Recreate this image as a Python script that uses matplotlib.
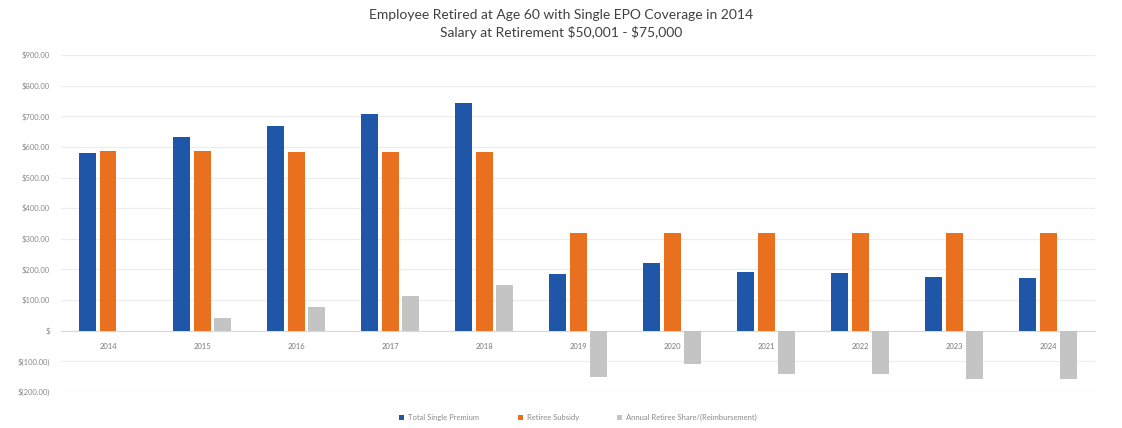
import numpy as np
import matplotlib
matplotlib.use('Agg')
from matplotlib import pyplot as plt
from matplotlib.ticker import FuncFormatter

plt.rcParams['font.family'] = ['Lato', 'DejaVu Sans']

years = ['2014', '2015', '2016', '2017', '2018', '2019', '2020', '2021', '2022', '2023', '2024']
total_premium = [580, 633, 668, 708, 743, 186, 222, 192, 189, 176, 173]
retiree_subsidy = [587, 587, 584, 584, 584, 320, 320, 320, 320, 320, 320]
retiree_share = [0, 40, 76, 112, 150, -150, -110, -142, -142, -156, -156]

series_names = ['Total Single Premium', 'Retiree Subsidy', 'Annual Retiree Share/(Reimbursement)']
colors = ['#1f56a8', '#e8701f', '#c4c4c4']


def money(v, pos=None):
    if v == 0:
        return '$'
    if v < 0:
        return f'$({abs(v):,.2f})'
    return f'${v:,.2f}'


def main():
    fig = plt.figure(figsize=(11.22, 4.28), dpi=100)
    ax = fig.add_axes([0.0544, 0.0841, 0.9216, 0.7874])

    x = np.arange(len(years))
    width = 0.18
    step = 0.22
    ax.bar(x - step, total_premium, width, color=colors[0], label=series_names[0], zorder=3)
    ax.bar(x, retiree_subsidy, width, color=colors[1], label=series_names[1], zorder=3)
    ax.bar(x + step, retiree_share, width, color=colors[2], label=series_names[2], zorder=3)

    ax.set_xlim(-0.5, len(years) - 0.5)
    ax.set_ylim(-200, 900)
    ax.set_yticks(np.arange(-200, 901, 100))
    ax.yaxis.set_major_formatter(FuncFormatter(money))
    ax.tick_params(axis='y', length=0, labelsize=5.5, labelcolor='#8a8a8a', pad=8)

    ax.set_xticks(x)
    ax.set_xticklabels(years)
    ax.spines['bottom'].set_position(('data', 0))
    ax.spines['bottom'].set_color('#d9d9d9')
    for side in ['top', 'right', 'left']:
        ax.spines[side].set_visible(False)
    ax.tick_params(axis='x', length=0, labelsize=5.5, labelcolor='#7a7a7a', pad=9)

    ax.grid(axis='y', color='#ececec', linewidth=0.8, zorder=0)

    ax.legend(loc='upper center', bbox_to_anchor=(0.5, -0.045), ncol=3, frameon=False,
              fontsize=5.5, labelcolor='#8a8a8a', handlelength=0.7, handleheight=0.7,
              columnspacing=5.0, handletextpad=0.5)

    fig.text(0.5, 0.965, 'Employee Retired at Age 60 with Single EPO Coverage in 2014',
             ha='center', va='center', fontsize=10, color='#404040')
    fig.text(0.5, 0.925, r'Salary at Retirement \$50,001 - \$75,000',
             ha='center', va='center', fontsize=10, color='#404040')

    fig.savefig('out.png', dpi=100)
    plt.close(fig)


if __name__ == '__main__':
    main()
